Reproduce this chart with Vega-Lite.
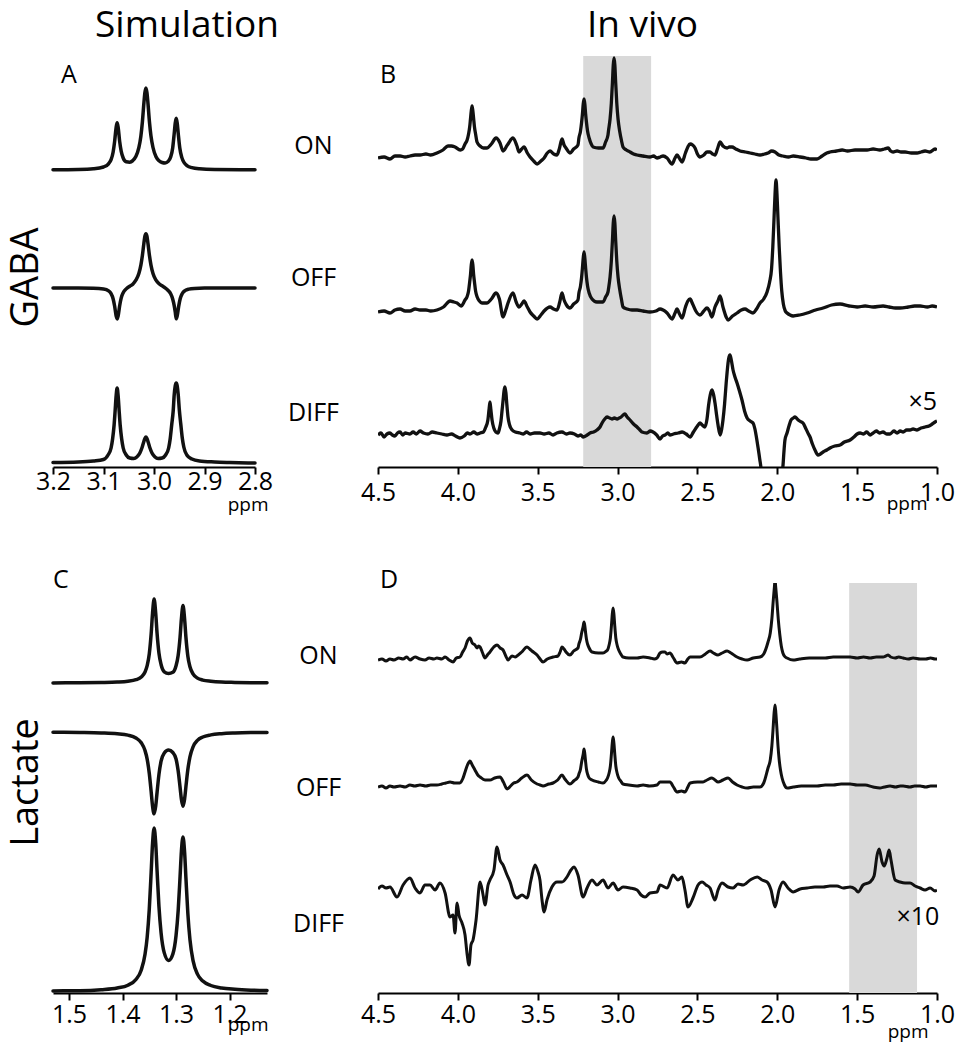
{
"$schema": "https://vega.github.io/schema/vega-lite/v6.json",
"background": "white",
"padding": {"left": 7, "top": 7, "right": 5, "bottom": 5},
"config": {
 "font": "Open Sans",
 "view": {"stroke": null},
 "axis": {"domainColor": "#000", "domainWidth": 2, "tickColor": "#000", "tickWidth": 2, "labelColor": "#000", "labelFont": "Open Sans", "labelFontSize": 25, "titleColor": "#000", "titleFont": "Open Sans", "titleFontWeight": "normal", "grid": false, "labelFlush": false, "labelOverlap": false},
 "title": {"font": "Open Sans", "fontWeight": "normal", "color": "#000", "fontSize": 37, "frame": "group"},
 "text": {"font": "Open Sans", "color": "#000"}
},
"datasets": {
 "simA": [
  {"s":"ON","ppm":3.2,"v":297.3},{"s":"ON","ppm":3.15,"v":297.6},{"s":"ON","ppm":3.12,"v":298.3},{"s":"ON","ppm":3.1,"v":300},{"s":"ON","ppm":3.09,"v":303.2},{"s":"ON","ppm":3.085,"v":307.3},{"s":"ON","ppm":3.081,"v":314.8},{"s":"ON","ppm":3.078,"v":325.4},{"s":"ON","ppm":3.075,"v":339.6},{"s":"ON","ppm":3.073,"v":344.3},{"s":"ON","ppm":3.071,"v":339.7},{"s":"ON","ppm":3.068,"v":325.6},{"s":"ON","ppm":3.065,"v":315.9},{"s":"ON","ppm":3.061,"v":309},{"s":"ON","ppm":3.055,"v":305.2},{"s":"ON","ppm":3.048,"v":304.8},{"s":"ON","ppm":3.042,"v":306.4},{"s":"ON","ppm":3.036,"v":310.4},{"s":"ON","ppm":3.03,"v":319.3},{"s":"ON","ppm":3.026,"v":330.8},{"s":"ON","ppm":3.023,"v":345},{"s":"ON","ppm":3.02,"v":364},{"s":"ON","ppm":3.018,"v":374.5},{"s":"ON","ppm":3.016,"v":379},{"s":"ON","ppm":3.014,"v":374.5},{"s":"ON","ppm":3.012,"v":364},{"s":"ON","ppm":3.009,"v":345},{"s":"ON","ppm":3.006,"v":331},{"s":"ON","ppm":3.002,"v":319.5},{"s":"ON","ppm":2.996,"v":310.3},{"s":"ON","ppm":2.99,"v":306.2},{"s":"ON","ppm":2.984,"v":304.5},{"s":"ON","ppm":2.978,"v":304},{"s":"ON","ppm":2.972,"v":305.6},{"s":"ON","ppm":2.967,"v":309.9},{"s":"ON","ppm":2.963,"v":319},{"s":"ON","ppm":2.96,"v":333.4},{"s":"ON","ppm":2.958,"v":343.8},{"s":"ON","ppm":2.956,"v":348.7},{"s":"ON","ppm":2.954,"v":343.8},{"s":"ON","ppm":2.952,"v":333.4},{"s":"ON","ppm":2.949,"v":319.3},{"s":"ON","ppm":2.945,"v":309.6},{"s":"ON","ppm":2.94,"v":304.1},{"s":"ON","ppm":2.934,"v":301.2},{"s":"ON","ppm":2.925,"v":299.4},{"s":"ON","ppm":2.91,"v":298.2},{"s":"ON","ppm":2.88,"v":297.5},{"s":"ON","ppm":2.8,"v":297.2},
  {"s":"OFF","ppm":3.2,"v":179},{"s":"OFF","ppm":3.15,"v":179},{"s":"OFF","ppm":3.12,"v":178.8},{"s":"OFF","ppm":3.1,"v":178},{"s":"OFF","ppm":3.09,"v":176.1},{"s":"OFF","ppm":3.085,"v":173.3},{"s":"OFF","ppm":3.081,"v":168.3},{"s":"OFF","ppm":3.078,"v":161},{"s":"OFF","ppm":3.075,"v":151.2},{"s":"OFF","ppm":3.073,"v":148},{"s":"OFF","ppm":3.071,"v":151.2},{"s":"OFF","ppm":3.068,"v":161.3},{"s":"OFF","ppm":3.065,"v":168.9},{"s":"OFF","ppm":3.061,"v":174.3},{"s":"OFF","ppm":3.055,"v":178.1},{"s":"OFF","ppm":3.048,"v":180.8},{"s":"OFF","ppm":3.042,"v":182.8},{"s":"OFF","ppm":3.036,"v":186.8},{"s":"OFF","ppm":3.03,"v":193.5},{"s":"OFF","ppm":3.026,"v":201.9},{"s":"OFF","ppm":3.023,"v":211.5},{"s":"OFF","ppm":3.02,"v":223.8},{"s":"OFF","ppm":3.018,"v":230.8},{"s":"OFF","ppm":3.016,"v":233.3},{"s":"OFF","ppm":3.014,"v":230.8},{"s":"OFF","ppm":3.012,"v":223.7},{"s":"OFF","ppm":3.009,"v":211.5},{"s":"OFF","ppm":3.006,"v":201.9},{"s":"OFF","ppm":3.002,"v":193.5},{"s":"OFF","ppm":2.996,"v":186.8},{"s":"OFF","ppm":2.99,"v":183.2},{"s":"OFF","ppm":2.984,"v":181.2},{"s":"OFF","ppm":2.978,"v":179.2},{"s":"OFF","ppm":2.972,"v":176.5},{"s":"OFF","ppm":2.967,"v":173.2},{"s":"OFF","ppm":2.963,"v":168},{"s":"OFF","ppm":2.96,"v":161.4},{"s":"OFF","ppm":2.958,"v":155.3},{"s":"OFF","ppm":2.956,"v":148.2},{"s":"OFF","ppm":2.954,"v":151.3},{"s":"OFF","ppm":2.951,"v":161.1},{"s":"OFF","ppm":2.948,"v":168.5},{"s":"OFF","ppm":2.944,"v":173.5},{"s":"OFF","ppm":2.938,"v":176.6},{"s":"OFF","ppm":2.931,"v":177.9},{"s":"OFF","ppm":2.92,"v":178.6},{"s":"OFF","ppm":2.9,"v":178.9},{"s":"OFF","ppm":2.8,"v":179},
  {"s":"DIFF","ppm":3.2,"v":4.5},{"s":"DIFF","ppm":3.15,"v":5},{"s":"DIFF","ppm":3.12,"v":6},{"s":"DIFF","ppm":3.1,"v":7.5},{"s":"DIFF","ppm":3.091,"v":12},{"s":"DIFF","ppm":3.085,"v":19},{"s":"DIFF","ppm":3.082,"v":28},{"s":"DIFF","ppm":3.079,"v":42},{"s":"DIFF","ppm":3.077,"v":56},{"s":"DIFF","ppm":3.075,"v":71},{"s":"DIFF","ppm":3.073,"v":79},{"s":"DIFF","ppm":3.071,"v":71},{"s":"DIFF","ppm":3.069,"v":56},{"s":"DIFF","ppm":3.067,"v":42},{"s":"DIFF","ppm":3.064,"v":28},{"s":"DIFF","ppm":3.061,"v":19},{"s":"DIFF","ppm":3.055,"v":12},{"s":"DIFF","ppm":3.048,"v":9},{"s":"DIFF","ppm":3.04,"v":8.5},{"s":"DIFF","ppm":3.034,"v":10},{"s":"DIFF","ppm":3.028,"v":14},{"s":"DIFF","ppm":3.024,"v":19},{"s":"DIFF","ppm":3.021,"v":24},{"s":"DIFF","ppm":3.018,"v":28.5},{"s":"DIFF","ppm":3.016,"v":30},{"s":"DIFF","ppm":3.014,"v":28.5},{"s":"DIFF","ppm":3.011,"v":24},{"s":"DIFF","ppm":3.008,"v":19},{"s":"DIFF","ppm":3.004,"v":14},{"s":"DIFF","ppm":2.998,"v":10},{"s":"DIFF","ppm":2.992,"v":8.5},{"s":"DIFF","ppm":2.984,"v":9},{"s":"DIFF","ppm":2.977,"v":12},{"s":"DIFF","ppm":2.971,"v":19},{"s":"DIFF","ppm":2.968,"v":28},{"s":"DIFF","ppm":2.965,"v":42},{"s":"DIFF","ppm":2.962,"v":56},{"s":"DIFF","ppm":2.96,"v":72},{"s":"DIFF","ppm":2.958,"v":81},{"s":"DIFF","ppm":2.956,"v":84},{"s":"DIFF","ppm":2.954,"v":81},{"s":"DIFF","ppm":2.952,"v":72},{"s":"DIFF","ppm":2.95,"v":58},{"s":"DIFF","ppm":2.947,"v":43},{"s":"DIFF","ppm":2.944,"v":29},{"s":"DIFF","ppm":2.941,"v":20},{"s":"DIFF","ppm":2.935,"v":12},{"s":"DIFF","ppm":2.925,"v":8},{"s":"DIFF","ppm":2.91,"v":6},{"s":"DIFF","ppm":2.88,"v":5},{"s":"DIFF","ppm":2.85,"v":4.5},{"s":"DIFF","ppm":2.8,"v":4}
 ],
 "simC": [
  {"s":"ON","ppm":1.53,"v":310.1},{"s":"ON","ppm":1.48,"v":310.3},{"s":"ON","ppm":1.44,"v":310.5},{"s":"ON","ppm":1.41,"v":310.9},{"s":"ON","ppm":1.39,"v":311.7},{"s":"ON","ppm":1.375,"v":313.3},{"s":"ON","ppm":1.365,"v":316},{"s":"ON","ppm":1.358,"v":321},{"s":"ON","ppm":1.354,"v":327.3},{"s":"ON","ppm":1.35,"v":339.3},{"s":"ON","ppm":1.3465,"v":359.3},{"s":"ON","ppm":1.344,"v":379.3},{"s":"ON","ppm":1.341,"v":394},{"s":"ON","ppm":1.338,"v":379.6},{"s":"ON","ppm":1.3355,"v":359.8},{"s":"ON","ppm":1.332,"v":340},{"s":"ON","ppm":1.328,"v":328.5},{"s":"ON","ppm":1.322,"v":321.2},{"s":"ON","ppm":1.314,"v":319.5},{"s":"ON","ppm":1.306,"v":320.7},{"s":"ON","ppm":1.3,"v":327.3},{"s":"ON","ppm":1.296,"v":337.8},{"s":"ON","ppm":1.2925,"v":355.9},{"s":"ON","ppm":1.29,"v":374.1},{"s":"ON","ppm":1.287,"v":387.4},{"s":"ON","ppm":1.284,"v":373.9},{"s":"ON","ppm":1.2815,"v":355.5},{"s":"ON","ppm":1.278,"v":337.1},{"s":"ON","ppm":1.274,"v":326.2},{"s":"ON","ppm":1.268,"v":318.9},{"s":"ON","ppm":1.26,"v":314.9},{"s":"ON","ppm":1.25,"v":312.9},{"s":"ON","ppm":1.235,"v":311.7},{"s":"ON","ppm":1.215,"v":310.9},{"s":"ON","ppm":1.19,"v":310.6},{"s":"ON","ppm":1.16,"v":310.35},{"s":"ON","ppm":1.13,"v":310.2},
  {"s":"OFF","ppm":1.53,"v":260.7},{"s":"OFF","ppm":1.48,"v":260.5},{"s":"OFF","ppm":1.44,"v":260.1},{"s":"OFF","ppm":1.41,"v":259.3},{"s":"OFF","ppm":1.39,"v":257.9},{"s":"OFF","ppm":1.375,"v":255},{"s":"OFF","ppm":1.365,"v":250.2},{"s":"OFF","ppm":1.358,"v":242.4},{"s":"OFF","ppm":1.354,"v":233.9},{"s":"OFF","ppm":1.35,"v":219.5},{"s":"OFF","ppm":1.3465,"v":201.2},{"s":"OFF","ppm":1.344,"v":187.3},{"s":"OFF","ppm":1.341,"v":179.2},{"s":"OFF","ppm":1.338,"v":187},{"s":"OFF","ppm":1.3355,"v":200.5},{"s":"OFF","ppm":1.332,"v":218.4},{"s":"OFF","ppm":1.328,"v":231.8},{"s":"OFF","ppm":1.322,"v":240},{"s":"OFF","ppm":1.314,"v":243},{"s":"OFF","ppm":1.306,"v":240.5},{"s":"OFF","ppm":1.3,"v":234},{"s":"OFF","ppm":1.296,"v":221.9},{"s":"OFF","ppm":1.2925,"v":205.8},{"s":"OFF","ppm":1.29,"v":193.7},{"s":"OFF","ppm":1.287,"v":186.7},{"s":"OFF","ppm":1.284,"v":194.1},{"s":"OFF","ppm":1.2815,"v":206.6},{"s":"OFF","ppm":1.278,"v":223.2},{"s":"OFF","ppm":1.274,"v":236.1},{"s":"OFF","ppm":1.268,"v":246.4},{"s":"OFF","ppm":1.26,"v":252.6},{"s":"OFF","ppm":1.25,"v":256},{"s":"OFF","ppm":1.235,"v":258.1},{"s":"OFF","ppm":1.215,"v":259.3},{"s":"OFF","ppm":1.19,"v":260},{"s":"OFF","ppm":1.16,"v":260.45},{"s":"OFF","ppm":1.13,"v":260.6},
  {"s":"DIFF","ppm":1.53,"v":2.1},{"s":"DIFF","ppm":1.48,"v":2.3},{"s":"DIFF","ppm":1.44,"v":3.3},{"s":"DIFF","ppm":1.41,"v":5},{"s":"DIFF","ppm":1.39,"v":7.8},{"s":"DIFF","ppm":1.375,"v":13.5},{"s":"DIFF","ppm":1.365,"v":23.1},{"s":"DIFF","ppm":1.358,"v":38.7},{"s":"DIFF","ppm":1.354,"v":55.7},{"s":"DIFF","ppm":1.35,"v":84.2},{"s":"DIFF","ppm":1.3465,"v":121},{"s":"DIFF","ppm":1.344,"v":148.8},{"s":"DIFF","ppm":1.341,"v":165.1},{"s":"DIFF","ppm":1.338,"v":149.5},{"s":"DIFF","ppm":1.3355,"v":122.5},{"s":"DIFF","ppm":1.332,"v":86.8},{"s":"DIFF","ppm":1.328,"v":60.2},{"s":"DIFF","ppm":1.322,"v":40.1},{"s":"DIFF","ppm":1.314,"v":32.5},{"s":"DIFF","ppm":1.306,"v":38.9},{"s":"DIFF","ppm":1.3,"v":57.5},{"s":"DIFF","ppm":1.296,"v":82.7},{"s":"DIFF","ppm":1.2925,"v":116.3},{"s":"DIFF","ppm":1.29,"v":141.6},{"s":"DIFF","ppm":1.287,"v":156.1},{"s":"DIFF","ppm":1.284,"v":140.7},{"s":"DIFF","ppm":1.2815,"v":114.6},{"s":"DIFF","ppm":1.278,"v":80},{"s":"DIFF","ppm":1.274,"v":53.3},{"s":"DIFF","ppm":1.268,"v":31.8},{"s":"DIFF","ppm":1.26,"v":18.9},{"s":"DIFF","ppm":1.25,"v":11.9},{"s":"DIFF","ppm":1.235,"v":7.5},{"s":"DIFF","ppm":1.215,"v":5},{"s":"DIFF","ppm":1.19,"v":3.7},{"s":"DIFF","ppm":1.16,"v":2.85},{"s":"DIFF","ppm":1.13,"v":2.45}
 ],
 "vivoB": [
  {"s":"ON","ppm":4.5,"v":309},{"s":"ON","ppm":4.462,"v":310},{"s":"ON","ppm":4.425,"v":308},{"s":"ON","ppm":4.394,"v":311},{"s":"ON","ppm":4.362,"v":311},{"s":"ON","ppm":4.33,"v":310},{"s":"ON","ppm":4.3,"v":311},{"s":"ON","ppm":4.268,"v":312},{"s":"ON","ppm":4.237,"v":312},{"s":"ON","ppm":4.2,"v":313},{"s":"ON","ppm":4.17,"v":312},{"s":"ON","ppm":4.131,"v":314},{"s":"ON","ppm":4.093,"v":317},{"s":"ON","ppm":4.062,"v":321},{"s":"ON","ppm":4.04,"v":321},{"s":"ON","ppm":4.018,"v":320},{"s":"ON","ppm":3.985,"v":317},{"s":"ON","ppm":3.97,"v":318},{"s":"ON","ppm":3.955,"v":323},{"s":"ON","ppm":3.942,"v":327},{"s":"ON","ppm":3.933,"v":333},{"s":"ON","ppm":3.926,"v":340},{"s":"ON","ppm":3.921,"v":348},{"s":"ON","ppm":3.916,"v":356},{"s":"ON","ppm":3.911,"v":361},{"s":"ON","ppm":3.906,"v":356},{"s":"ON","ppm":3.901,"v":348},{"s":"ON","ppm":3.896,"v":340},{"s":"ON","ppm":3.889,"v":333},{"s":"ON","ppm":3.88,"v":325},{"s":"ON","ppm":3.861,"v":321},{"s":"ON","ppm":3.84,"v":319},{"s":"ON","ppm":3.817,"v":319},{"s":"ON","ppm":3.79,"v":323},{"s":"ON","ppm":3.761,"v":329},{"s":"ON","ppm":3.736,"v":324},{"s":"ON","ppm":3.717,"v":316},{"s":"ON","ppm":3.69,"v":322},{"s":"ON","ppm":3.655,"v":329},{"s":"ON","ppm":3.63,"v":321},{"s":"ON","ppm":3.617,"v":315},{"s":"ON","ppm":3.6,"v":318},{"s":"ON","ppm":3.586,"v":320},{"s":"ON","ppm":3.565,"v":314},{"s":"ON","ppm":3.548,"v":310},{"s":"ON","ppm":3.525,"v":306},{"s":"ON","ppm":3.504,"v":303},{"s":"ON","ppm":3.48,"v":306},{"s":"ON","ppm":3.46,"v":309},{"s":"ON","ppm":3.44,"v":314},{"s":"ON","ppm":3.423,"v":316},{"s":"ON","ppm":3.4,"v":313},{"s":"ON","ppm":3.379,"v":312},{"s":"ON","ppm":3.365,"v":318},{"s":"ON","ppm":3.348,"v":328},{"s":"ON","ppm":3.335,"v":322},{"s":"ON","ppm":3.323,"v":319},{"s":"ON","ppm":3.298,"v":314},{"s":"ON","ppm":3.275,"v":318},{"s":"ON","ppm":3.248,"v":322},{"s":"ON","ppm":3.242,"v":329},{"s":"ON","ppm":3.232,"v":336},{"s":"ON","ppm":3.225,"v":345},{"s":"ON","ppm":3.22,"v":353},{"s":"ON","ppm":3.215,"v":363},{"s":"ON","ppm":3.21,"v":368},{"s":"ON","ppm":3.205,"v":363},{"s":"ON","ppm":3.2,"v":353},{"s":"ON","ppm":3.195,"v":345},{"s":"ON","ppm":3.188,"v":336},{"s":"ON","ppm":3.178,"v":329},{"s":"ON","ppm":3.165,"v":323},{"s":"ON","ppm":3.153,"v":320},{"s":"ON","ppm":3.12,"v":319},{"s":"ON","ppm":3.091,"v":319},{"s":"ON","ppm":3.075,"v":325},{"s":"ON","ppm":3.06,"v":332},{"s":"ON","ppm":3.057,"v":336},{"s":"ON","ppm":3.047,"v":348},{"s":"ON","ppm":3.039,"v":364},{"s":"ON","ppm":3.032,"v":385},{"s":"ON","ppm":3.027,"v":402},{"s":"ON","ppm":3.022,"v":409},{"s":"ON","ppm":3.017,"v":402},{"s":"ON","ppm":3.012,"v":385},{"s":"ON","ppm":3.005,"v":364},{"s":"ON","ppm":2.997,"v":348},{"s":"ON","ppm":2.987,"v":336},{"s":"ON","ppm":2.975,"v":326},{"s":"ON","ppm":2.966,"v":320},{"s":"ON","ppm":2.945,"v":317},{"s":"ON","ppm":2.922,"v":315},{"s":"ON","ppm":2.9,"v":313},{"s":"ON","ppm":2.878,"v":312},{"s":"ON","ppm":2.84,"v":311},{"s":"ON","ppm":2.797,"v":310},{"s":"ON","ppm":2.775,"v":311},{"s":"ON","ppm":2.753,"v":309},{"s":"ON","ppm":2.733,"v":310},{"s":"ON","ppm":2.715,"v":311},{"s":"ON","ppm":2.69,"v":309},{"s":"ON","ppm":2.659,"v":303},{"s":"ON","ppm":2.64,"v":309},{"s":"ON","ppm":2.628,"v":312},{"s":"ON","ppm":2.61,"v":308},{"s":"ON","ppm":2.596,"v":305},{"s":"ON","ppm":2.575,"v":314},{"s":"ON","ppm":2.56,"v":320},{"s":"ON","ppm":2.546,"v":323},{"s":"ON","ppm":2.53,"v":322},{"s":"ON","ppm":2.515,"v":319},{"s":"ON","ppm":2.5,"v":313},{"s":"ON","ppm":2.484,"v":310},{"s":"ON","ppm":2.46,"v":312},{"s":"ON","ppm":2.44,"v":315},{"s":"ON","ppm":2.421,"v":315},{"s":"ON","ppm":2.405,"v":313},{"s":"ON","ppm":2.39,"v":312},{"s":"ON","ppm":2.375,"v":318},{"s":"ON","ppm":2.358,"v":325},{"s":"ON","ppm":2.34,"v":321},{"s":"ON","ppm":2.314,"v":319},{"s":"ON","ppm":2.3,"v":320},{"s":"ON","ppm":2.283,"v":320},{"s":"ON","ppm":2.26,"v":318},{"s":"ON","ppm":2.233,"v":316},{"s":"ON","ppm":2.2,"v":315},{"s":"ON","ppm":2.17,"v":314},{"s":"ON","ppm":2.14,"v":313},{"s":"ON","ppm":2.108,"v":312},{"s":"ON","ppm":2.08,"v":313},{"s":"ON","ppm":2.058,"v":314},{"s":"ON","ppm":2.035,"v":316},{"s":"ON","ppm":2.014,"v":315},{"s":"ON","ppm":1.99,"v":312},{"s":"ON","ppm":1.964,"v":311},{"s":"ON","ppm":1.93,"v":310},{"s":"ON","ppm":1.9,"v":311},{"s":"ON","ppm":1.857,"v":310},{"s":"ON","ppm":1.82,"v":309},{"s":"ON","ppm":1.79,"v":308},{"s":"ON","ppm":1.751,"v":308},{"s":"ON","ppm":1.72,"v":311},{"s":"ON","ppm":1.69,"v":314},{"s":"ON","ppm":1.67,"v":315},{"s":"ON","ppm":1.63,"v":316},{"s":"ON","ppm":1.594,"v":317},{"s":"ON","ppm":1.56,"v":316},{"s":"ON","ppm":1.513,"v":317},{"s":"ON","ppm":1.47,"v":317},{"s":"ON","ppm":1.438,"v":317},{"s":"ON","ppm":1.4,"v":318},{"s":"ON","ppm":1.357,"v":317},{"s":"ON","ppm":1.33,"v":318},{"s":"ON","ppm":1.306,"v":319},{"s":"ON","ppm":1.29,"v":316},{"s":"ON","ppm":1.275,"v":315},{"s":"ON","ppm":1.25,"v":316},{"s":"ON","ppm":1.225,"v":315},{"s":"ON","ppm":1.2,"v":315},{"s":"ON","ppm":1.16,"v":314},{"s":"ON","ppm":1.125,"v":314},{"s":"ON","ppm":1.1,"v":315},{"s":"ON","ppm":1.075,"v":316},{"s":"ON","ppm":1.045,"v":315},{"s":"ON","ppm":1.012,"v":318},{"s":"ON","ppm":1.0,"v":317},
  {"s":"OFF","ppm":4.5,"v":155},{"s":"OFF","ppm":4.462,"v":156},{"s":"OFF","ppm":4.425,"v":154},{"s":"OFF","ppm":4.394,"v":157},{"s":"OFF","ppm":4.362,"v":158},{"s":"OFF","ppm":4.33,"v":156},{"s":"OFF","ppm":4.3,"v":156},{"s":"OFF","ppm":4.268,"v":158},{"s":"OFF","ppm":4.237,"v":157},{"s":"OFF","ppm":4.2,"v":157},{"s":"OFF","ppm":4.17,"v":156},{"s":"OFF","ppm":4.131,"v":157},{"s":"OFF","ppm":4.09,"v":160},{"s":"OFF","ppm":4.049,"v":166},{"s":"OFF","ppm":4.025,"v":165},{"s":"OFF","ppm":4.005,"v":164},{"s":"OFF","ppm":3.98,"v":161},{"s":"OFF","ppm":3.955,"v":167},{"s":"OFF","ppm":3.943,"v":170},{"s":"OFF","ppm":3.933,"v":176},{"s":"OFF","ppm":3.926,"v":185},{"s":"OFF","ppm":3.921,"v":192},{"s":"OFF","ppm":3.916,"v":202},{"s":"OFF","ppm":3.911,"v":207},{"s":"OFF","ppm":3.906,"v":202},{"s":"OFF","ppm":3.901,"v":192},{"s":"OFF","ppm":3.896,"v":185},{"s":"OFF","ppm":3.889,"v":176},{"s":"OFF","ppm":3.879,"v":170},{"s":"OFF","ppm":3.865,"v":166},{"s":"OFF","ppm":3.849,"v":164},{"s":"OFF","ppm":3.817,"v":164},{"s":"OFF","ppm":3.79,"v":168},{"s":"OFF","ppm":3.761,"v":174},{"s":"OFF","ppm":3.74,"v":168},{"s":"OFF","ppm":3.717,"v":150},{"s":"OFF","ppm":3.7,"v":157},{"s":"OFF","ppm":3.686,"v":164},{"s":"OFF","ppm":3.655,"v":174},{"s":"OFF","ppm":3.635,"v":165},{"s":"OFF","ppm":3.617,"v":160},{"s":"OFF","ppm":3.6,"v":163},{"s":"OFF","ppm":3.586,"v":166},{"s":"OFF","ppm":3.565,"v":160},{"s":"OFF","ppm":3.548,"v":155},{"s":"OFF","ppm":3.525,"v":151},{"s":"OFF","ppm":3.504,"v":148},{"s":"OFF","ppm":3.48,"v":152},{"s":"OFF","ppm":3.46,"v":156},{"s":"OFF","ppm":3.423,"v":160},{"s":"OFF","ppm":3.4,"v":158},{"s":"OFF","ppm":3.379,"v":157},{"s":"OFF","ppm":3.362,"v":165},{"s":"OFF","ppm":3.348,"v":174},{"s":"OFF","ppm":3.335,"v":167},{"s":"OFF","ppm":3.32,"v":162},{"s":"OFF","ppm":3.298,"v":159},{"s":"OFF","ppm":3.275,"v":163},{"s":"OFF","ppm":3.248,"v":167},{"s":"OFF","ppm":3.242,"v":174},{"s":"OFF","ppm":3.232,"v":181},{"s":"OFF","ppm":3.225,"v":190},{"s":"OFF","ppm":3.22,"v":199},{"s":"OFF","ppm":3.215,"v":209},{"s":"OFF","ppm":3.21,"v":215},{"s":"OFF","ppm":3.205,"v":209},{"s":"OFF","ppm":3.2,"v":199},{"s":"OFF","ppm":3.195,"v":190},{"s":"OFF","ppm":3.188,"v":181},{"s":"OFF","ppm":3.178,"v":174},{"s":"OFF","ppm":3.16,"v":168},{"s":"OFF","ppm":3.13,"v":165},{"s":"OFF","ppm":3.091,"v":165},{"s":"OFF","ppm":3.075,"v":170},{"s":"OFF","ppm":3.06,"v":175},{"s":"OFF","ppm":3.057,"v":178},{"s":"OFF","ppm":3.047,"v":190},{"s":"OFF","ppm":3.039,"v":206},{"s":"OFF","ppm":3.032,"v":227},{"s":"OFF","ppm":3.027,"v":244},{"s":"OFF","ppm":3.022,"v":251},{"s":"OFF","ppm":3.017,"v":244},{"s":"OFF","ppm":3.012,"v":227},{"s":"OFF","ppm":3.005,"v":206},{"s":"OFF","ppm":2.997,"v":190},{"s":"OFF","ppm":2.987,"v":178},{"s":"OFF","ppm":2.975,"v":167},{"s":"OFF","ppm":2.966,"v":160},{"s":"OFF","ppm":2.94,"v":158},{"s":"OFF","ppm":2.91,"v":157},{"s":"OFF","ppm":2.878,"v":157},{"s":"OFF","ppm":2.84,"v":156},{"s":"OFF","ppm":2.797,"v":155},{"s":"OFF","ppm":2.76,"v":156},{"s":"OFF","ppm":2.734,"v":158},{"s":"OFF","ppm":2.715,"v":157},{"s":"OFF","ppm":2.69,"v":154},{"s":"OFF","ppm":2.659,"v":148},{"s":"OFF","ppm":2.64,"v":154},{"s":"OFF","ppm":2.628,"v":158},{"s":"OFF","ppm":2.612,"v":153},{"s":"OFF","ppm":2.596,"v":149},{"s":"OFF","ppm":2.575,"v":160},{"s":"OFF","ppm":2.56,"v":166},{"s":"OFF","ppm":2.546,"v":168},{"s":"OFF","ppm":2.53,"v":163},{"s":"OFF","ppm":2.51,"v":156},{"s":"OFF","ppm":2.484,"v":152},{"s":"OFF","ppm":2.46,"v":156},{"s":"OFF","ppm":2.44,"v":159},{"s":"OFF","ppm":2.425,"v":156},{"s":"OFF","ppm":2.409,"v":150},{"s":"OFF","ppm":2.39,"v":160},{"s":"OFF","ppm":2.372,"v":166},{"s":"OFF","ppm":2.358,"v":171},{"s":"OFF","ppm":2.34,"v":160},{"s":"OFF","ppm":2.32,"v":150},{"s":"OFF","ppm":2.308,"v":147},{"s":"OFF","ppm":2.28,"v":151},{"s":"OFF","ppm":2.252,"v":154},{"s":"OFF","ppm":2.225,"v":157},{"s":"OFF","ppm":2.202,"v":158},{"s":"OFF","ppm":2.18,"v":156},{"s":"OFF","ppm":2.152,"v":154},{"s":"OFF","ppm":2.13,"v":158},{"s":"OFF","ppm":2.108,"v":164},{"s":"OFF","ppm":2.085,"v":168},{"s":"OFF","ppm":2.064,"v":175},{"s":"OFF","ppm":2.048,"v":185},{"s":"OFF","ppm":2.036,"v":198},{"s":"OFF","ppm":2.028,"v":220},{"s":"OFF","ppm":2.02,"v":250},{"s":"OFF","ppm":2.014,"v":273},{"s":"OFF","ppm":2.008,"v":287},{"s":"OFF","ppm":2.002,"v":273},{"s":"OFF","ppm":1.996,"v":250},{"s":"OFF","ppm":1.988,"v":220},{"s":"OFF","ppm":1.98,"v":195},{"s":"OFF","ppm":1.972,"v":176},{"s":"OFF","ppm":1.962,"v":163},{"s":"OFF","ppm":1.95,"v":156},{"s":"OFF","ppm":1.939,"v":154},{"s":"OFF","ppm":1.92,"v":152},{"s":"OFF","ppm":1.901,"v":151},{"s":"OFF","ppm":1.86,"v":152},{"s":"OFF","ppm":1.813,"v":154},{"s":"OFF","ppm":1.76,"v":157},{"s":"OFF","ppm":1.713,"v":159},{"s":"OFF","ppm":1.66,"v":162},{"s":"OFF","ppm":1.607,"v":163},{"s":"OFF","ppm":1.55,"v":161},{"s":"OFF","ppm":1.5,"v":160},{"s":"OFF","ppm":1.45,"v":161},{"s":"OFF","ppm":1.4,"v":160},{"s":"OFF","ppm":1.338,"v":161},{"s":"OFF","ppm":1.3,"v":160},{"s":"OFF","ppm":1.26,"v":159},{"s":"OFF","ppm":1.231,"v":159},{"s":"OFF","ppm":1.18,"v":160},{"s":"OFF","ppm":1.14,"v":161},{"s":"OFF","ppm":1.106,"v":161},{"s":"OFF","ppm":1.06,"v":160},{"s":"OFF","ppm":1.03,"v":161},{"s":"OFF","ppm":1.0,"v":160},
  {"s":"DIFF","ppm":4.5,"v":32},{"s":"DIFF","ppm":4.481,"v":34},{"s":"DIFF","ppm":4.462,"v":30},{"s":"DIFF","ppm":4.444,"v":33},{"s":"DIFF","ppm":4.425,"v":34},{"s":"DIFF","ppm":4.41,"v":32},{"s":"DIFF","ppm":4.394,"v":31},{"s":"DIFF","ppm":4.378,"v":34},{"s":"DIFF","ppm":4.362,"v":35},{"s":"DIFF","ppm":4.345,"v":32},{"s":"DIFF","ppm":4.33,"v":34},{"s":"DIFF","ppm":4.3,"v":33},{"s":"DIFF","ppm":4.28,"v":35},{"s":"DIFF","ppm":4.26,"v":33},{"s":"DIFF","ppm":4.237,"v":36},{"s":"DIFF","ppm":4.215,"v":34},{"s":"DIFF","ppm":4.187,"v":33},{"s":"DIFF","ppm":4.16,"v":35},{"s":"DIFF","ppm":4.131,"v":34},{"s":"DIFF","ppm":4.1,"v":33},{"s":"DIFF","ppm":4.068,"v":32},{"s":"DIFF","ppm":4.04,"v":33},{"s":"DIFF","ppm":4.015,"v":31},{"s":"DIFF","ppm":3.987,"v":29},{"s":"DIFF","ppm":3.96,"v":31},{"s":"DIFF","ppm":3.94,"v":34},{"s":"DIFF","ppm":3.924,"v":33},{"s":"DIFF","ppm":3.9,"v":35},{"s":"DIFF","ppm":3.88,"v":33},{"s":"DIFF","ppm":3.861,"v":34},{"s":"DIFF","ppm":3.84,"v":35},{"s":"DIFF","ppm":3.825,"v":40},{"s":"DIFF","ppm":3.812,"v":47},{"s":"DIFF","ppm":3.805,"v":57},{"s":"DIFF","ppm":3.799,"v":65},{"s":"DIFF","ppm":3.793,"v":57},{"s":"DIFF","ppm":3.786,"v":47},{"s":"DIFF","ppm":3.775,"v":39},{"s":"DIFF","ppm":3.762,"v":35},{"s":"DIFF","ppm":3.749,"v":34},{"s":"DIFF","ppm":3.74,"v":38},{"s":"DIFF","ppm":3.73,"v":46},{"s":"DIFF","ppm":3.723,"v":57},{"s":"DIFF","ppm":3.716,"v":68},{"s":"DIFF","ppm":3.711,"v":76},{"s":"DIFF","ppm":3.705,"v":80},{"s":"DIFF","ppm":3.699,"v":74},{"s":"DIFF","ppm":3.693,"v":62},{"s":"DIFF","ppm":3.686,"v":50},{"s":"DIFF","ppm":3.676,"v":42},{"s":"DIFF","ppm":3.66,"v":37},{"s":"DIFF","ppm":3.64,"v":35},{"s":"DIFF","ppm":3.611,"v":34},{"s":"DIFF","ppm":3.59,"v":33},{"s":"DIFF","ppm":3.57,"v":35},{"s":"DIFF","ppm":3.548,"v":33},{"s":"DIFF","ppm":3.52,"v":34},{"s":"DIFF","ppm":3.486,"v":34},{"s":"DIFF","ppm":3.46,"v":33},{"s":"DIFF","ppm":3.43,"v":34},{"s":"DIFF","ppm":3.404,"v":32},{"s":"DIFF","ppm":3.38,"v":34},{"s":"DIFF","ppm":3.348,"v":35},{"s":"DIFF","ppm":3.32,"v":33},{"s":"DIFF","ppm":3.298,"v":34},{"s":"DIFF","ppm":3.27,"v":33},{"s":"DIFF","ppm":3.248,"v":31},{"s":"DIFF","ppm":3.23,"v":32},{"s":"DIFF","ppm":3.216,"v":30},{"s":"DIFF","ppm":3.19,"v":32},{"s":"DIFF","ppm":3.172,"v":34},{"s":"DIFF","ppm":3.15,"v":35},{"s":"DIFF","ppm":3.129,"v":37},{"s":"DIFF","ppm":3.11,"v":40},{"s":"DIFF","ppm":3.097,"v":44},{"s":"DIFF","ppm":3.08,"v":48},{"s":"DIFF","ppm":3.066,"v":50},{"s":"DIFF","ppm":3.05,"v":49},{"s":"DIFF","ppm":3.035,"v":48},{"s":"DIFF","ppm":3.02,"v":49},{"s":"DIFF","ppm":3.003,"v":48},{"s":"DIFF","ppm":2.99,"v":49},{"s":"DIFF","ppm":2.978,"v":50},{"s":"DIFF","ppm":2.965,"v":52},{"s":"DIFF","ppm":2.953,"v":53},{"s":"DIFF","ppm":2.94,"v":50},{"s":"DIFF","ppm":2.922,"v":47},{"s":"DIFF","ppm":2.9,"v":43},{"s":"DIFF","ppm":2.878,"v":40},{"s":"DIFF","ppm":2.86,"v":37},{"s":"DIFF","ppm":2.847,"v":35},{"s":"DIFF","ppm":2.816,"v":34},{"s":"DIFF","ppm":2.795,"v":36},{"s":"DIFF","ppm":2.778,"v":35},{"s":"DIFF","ppm":2.755,"v":32},{"s":"DIFF","ppm":2.734,"v":28},{"s":"DIFF","ppm":2.718,"v":31},{"s":"DIFF","ppm":2.703,"v":32},{"s":"DIFF","ppm":2.685,"v":34},{"s":"DIFF","ppm":2.672,"v":32},{"s":"DIFF","ppm":2.65,"v":33},{"s":"DIFF","ppm":2.62,"v":34},{"s":"DIFF","ppm":2.596,"v":35},{"s":"DIFF","ppm":2.57,"v":33},{"s":"DIFF","ppm":2.546,"v":30},{"s":"DIFF","ppm":2.525,"v":35},{"s":"DIFF","ppm":2.5,"v":41},{"s":"DIFF","ppm":2.484,"v":44},{"s":"DIFF","ppm":2.47,"v":42},{"s":"DIFF","ppm":2.453,"v":40},{"s":"DIFF","ppm":2.44,"v":48},{"s":"DIFF","ppm":2.43,"v":62},{"s":"DIFF","ppm":2.42,"v":72},{"s":"DIFF","ppm":2.409,"v":77},{"s":"DIFF","ppm":2.4,"v":73},{"s":"DIFF","ppm":2.39,"v":64},{"s":"DIFF","ppm":2.38,"v":52},{"s":"DIFF","ppm":2.371,"v":42},{"s":"DIFF","ppm":2.358,"v":32},{"s":"DIFF","ppm":2.348,"v":38},{"s":"DIFF","ppm":2.34,"v":47},{"s":"DIFF","ppm":2.33,"v":63},{"s":"DIFF","ppm":2.32,"v":84},{"s":"DIFF","ppm":2.314,"v":95},{"s":"DIFF","ppm":2.305,"v":108},{"s":"DIFF","ppm":2.296,"v":112},{"s":"DIFF","ppm":2.288,"v":107},{"s":"DIFF","ppm":2.277,"v":97},{"s":"DIFF","ppm":2.265,"v":90},{"s":"DIFF","ppm":2.252,"v":84},{"s":"DIFF","ppm":2.235,"v":75},{"s":"DIFF","ppm":2.221,"v":67},{"s":"DIFF","ppm":2.205,"v":56},{"s":"DIFF","ppm":2.189,"v":49},{"s":"DIFF","ppm":2.17,"v":46},{"s":"DIFF","ppm":2.152,"v":44},{"s":"DIFF","ppm":2.14,"v":38},{"s":"DIFF","ppm":2.133,"v":32},{"s":"DIFF","ppm":2.121,"v":20},{"s":"DIFF","ppm":2.11,"v":8},{"s":"DIFF","ppm":2.1,"v":-5},{"s":"DIFF","ppm":2.085,"v":-60},{"s":"DIFF","ppm":2.0,"v":-300},{"s":"DIFF","ppm":1.98,"v":-60},{"s":"DIFF","ppm":1.97,"v":-8},{"s":"DIFF","ppm":1.964,"v":2},{"s":"DIFF","ppm":1.958,"v":16},{"s":"DIFF","ppm":1.952,"v":27},{"s":"DIFF","ppm":1.939,"v":34},{"s":"DIFF","ppm":1.925,"v":42},{"s":"DIFF","ppm":1.914,"v":47},{"s":"DIFF","ppm":1.9,"v":49},{"s":"DIFF","ppm":1.889,"v":50},{"s":"DIFF","ppm":1.875,"v":48},{"s":"DIFF","ppm":1.86,"v":46},{"s":"DIFF","ppm":1.839,"v":44},{"s":"DIFF","ppm":1.82,"v":38},{"s":"DIFF","ppm":1.805,"v":33},{"s":"DIFF","ppm":1.795,"v":30},{"s":"DIFF","ppm":1.78,"v":23},{"s":"DIFF","ppm":1.764,"v":17},{"s":"DIFF","ppm":1.745,"v":12},{"s":"DIFF","ppm":1.73,"v":13},{"s":"DIFF","ppm":1.713,"v":15},{"s":"DIFF","ppm":1.69,"v":17},{"s":"DIFF","ppm":1.67,"v":19},{"s":"DIFF","ppm":1.64,"v":21},{"s":"DIFF","ppm":1.607,"v":22},{"s":"DIFF","ppm":1.58,"v":25},{"s":"DIFF","ppm":1.544,"v":27},{"s":"DIFF","ppm":1.52,"v":30},{"s":"DIFF","ppm":1.5,"v":33},{"s":"DIFF","ppm":1.482,"v":34},{"s":"DIFF","ppm":1.46,"v":33},{"s":"DIFF","ppm":1.44,"v":35},{"s":"DIFF","ppm":1.419,"v":32},{"s":"DIFF","ppm":1.4,"v":34},{"s":"DIFF","ppm":1.38,"v":36},{"s":"DIFF","ppm":1.36,"v":34},{"s":"DIFF","ppm":1.338,"v":35},{"s":"DIFF","ppm":1.315,"v":33},{"s":"DIFF","ppm":1.294,"v":33},{"s":"DIFF","ppm":1.27,"v":36},{"s":"DIFF","ppm":1.25,"v":34},{"s":"DIFF","ppm":1.23,"v":36},{"s":"DIFF","ppm":1.212,"v":35},{"s":"DIFF","ppm":1.19,"v":37},{"s":"DIFF","ppm":1.169,"v":37},{"s":"DIFF","ppm":1.15,"v":38},{"s":"DIFF","ppm":1.125,"v":37},{"s":"DIFF","ppm":1.1,"v":39},{"s":"DIFF","ppm":1.075,"v":40},{"s":"DIFF","ppm":1.05,"v":41},{"s":"DIFF","ppm":1.03,"v":43},{"s":"DIFF","ppm":1.012,"v":45},{"s":"DIFF","ppm":1.0,"v":46}
 ],
 "vivoD": [
  {"s":"ON","ppm":4.5,"v":333},{"s":"ON","ppm":4.475,"v":334},{"s":"ON","ppm":4.45,"v":332},{"s":"ON","ppm":4.425,"v":334},{"s":"ON","ppm":4.4,"v":333},{"s":"ON","ppm":4.37,"v":335},{"s":"ON","ppm":4.343,"v":334},{"s":"ON","ppm":4.32,"v":336},{"s":"ON","ppm":4.3,"v":333},{"s":"ON","ppm":4.268,"v":336},{"s":"ON","ppm":4.237,"v":334},{"s":"ON","ppm":4.206,"v":333},{"s":"ON","ppm":4.18,"v":335},{"s":"ON","ppm":4.15,"v":334},{"s":"ON","ppm":4.131,"v":335},{"s":"ON","ppm":4.1,"v":334},{"s":"ON","ppm":4.08,"v":336},{"s":"ON","ppm":4.055,"v":333},{"s":"ON","ppm":4.03,"v":331},{"s":"ON","ppm":4.01,"v":335},{"s":"ON","ppm":3.987,"v":336},{"s":"ON","ppm":3.97,"v":341},{"s":"ON","ppm":3.955,"v":345},{"s":"ON","ppm":3.94,"v":352},{"s":"ON","ppm":3.924,"v":355},{"s":"ON","ppm":3.91,"v":350},{"s":"ON","ppm":3.893,"v":348},{"s":"ON","ppm":3.88,"v":345},{"s":"ON","ppm":3.87,"v":347},{"s":"ON","ppm":3.861,"v":346},{"s":"ON","ppm":3.845,"v":340},{"s":"ON","ppm":3.83,"v":335},{"s":"ON","ppm":3.815,"v":338},{"s":"ON","ppm":3.799,"v":341},{"s":"ON","ppm":3.775,"v":346},{"s":"ON","ppm":3.755,"v":348},{"s":"ON","ppm":3.735,"v":345},{"s":"ON","ppm":3.717,"v":343},{"s":"ON","ppm":3.7,"v":337},{"s":"ON","ppm":3.686,"v":333},{"s":"ON","ppm":3.661,"v":337},{"s":"ON","ppm":3.64,"v":336},{"s":"ON","ppm":3.63,"v":337},{"s":"ON","ppm":3.6,"v":341},{"s":"ON","ppm":3.567,"v":346},{"s":"ON","ppm":3.55,"v":344},{"s":"ON","ppm":3.536,"v":342},{"s":"ON","ppm":3.504,"v":338},{"s":"ON","ppm":3.485,"v":334},{"s":"ON","ppm":3.467,"v":331},{"s":"ON","ppm":3.44,"v":334},{"s":"ON","ppm":3.404,"v":336},{"s":"ON","ppm":3.373,"v":337},{"s":"ON","ppm":3.36,"v":341},{"s":"ON","ppm":3.348,"v":346},{"s":"ON","ppm":3.335,"v":344},{"s":"ON","ppm":3.323,"v":341},{"s":"ON","ppm":3.298,"v":338},{"s":"ON","ppm":3.275,"v":342},{"s":"ON","ppm":3.248,"v":345},{"s":"ON","ppm":3.242,"v":349},{"s":"ON","ppm":3.232,"v":354},{"s":"ON","ppm":3.225,"v":360},{"s":"ON","ppm":3.215,"v":367},{"s":"ON","ppm":3.21,"v":371},{"s":"ON","ppm":3.205,"v":367},{"s":"ON","ppm":3.2,"v":360},{"s":"ON","ppm":3.195,"v":354},{"s":"ON","ppm":3.188,"v":349},{"s":"ON","ppm":3.178,"v":345},{"s":"ON","ppm":3.16,"v":341},{"s":"ON","ppm":3.12,"v":340},{"s":"ON","ppm":3.091,"v":340},{"s":"ON","ppm":3.07,"v":342},{"s":"ON","ppm":3.063,"v":343},{"s":"ON","ppm":3.053,"v":348},{"s":"ON","ppm":3.045,"v":355},{"s":"ON","ppm":3.038,"v":368},{"s":"ON","ppm":3.033,"v":379},{"s":"ON","ppm":3.028,"v":385},{"s":"ON","ppm":3.023,"v":379},{"s":"ON","ppm":3.018,"v":368},{"s":"ON","ppm":3.011,"v":355},{"s":"ON","ppm":3.003,"v":348},{"s":"ON","ppm":2.993,"v":343},{"s":"ON","ppm":2.98,"v":339},{"s":"ON","ppm":2.966,"v":336},{"s":"ON","ppm":2.93,"v":335},{"s":"ON","ppm":2.878,"v":335},{"s":"ON","ppm":2.84,"v":336},{"s":"ON","ppm":2.797,"v":335},{"s":"ON","ppm":2.77,"v":334},{"s":"ON","ppm":2.753,"v":335},{"s":"ON","ppm":2.734,"v":340},{"s":"ON","ppm":2.718,"v":341},{"s":"ON","ppm":2.703,"v":341},{"s":"ON","ppm":2.69,"v":339},{"s":"ON","ppm":2.672,"v":340},{"s":"ON","ppm":2.65,"v":335},{"s":"ON","ppm":2.628,"v":330},{"s":"ON","ppm":2.6,"v":331},{"s":"ON","ppm":2.578,"v":330},{"s":"ON","ppm":2.56,"v":334},{"s":"ON","ppm":2.546,"v":336},{"s":"ON","ppm":2.52,"v":336},{"s":"ON","ppm":2.484,"v":336},{"s":"ON","ppm":2.45,"v":339},{"s":"ON","ppm":2.421,"v":342},{"s":"ON","ppm":2.4,"v":340},{"s":"ON","ppm":2.371,"v":338},{"s":"ON","ppm":2.345,"v":340},{"s":"ON","ppm":2.314,"v":342},{"s":"ON","ppm":2.29,"v":340},{"s":"ON","ppm":2.252,"v":336},{"s":"ON","ppm":2.22,"v":334},{"s":"ON","ppm":2.189,"v":333},{"s":"ON","ppm":2.15,"v":335},{"s":"ON","ppm":2.108,"v":336},{"s":"ON","ppm":2.085,"v":339},{"s":"ON","ppm":2.058,"v":351},{"s":"ON","ppm":2.044,"v":360},{"s":"ON","ppm":2.034,"v":374},{"s":"ON","ppm":2.025,"v":393},{"s":"ON","ppm":2.018,"v":406},{"s":"ON","ppm":2.014,"v":413},{"s":"ON","ppm":2.01,"v":406},{"s":"ON","ppm":2.003,"v":393},{"s":"ON","ppm":1.994,"v":374},{"s":"ON","ppm":1.984,"v":358},{"s":"ON","ppm":1.975,"v":347},{"s":"ON","ppm":1.965,"v":340},{"s":"ON","ppm":1.95,"v":336},{"s":"ON","ppm":1.939,"v":335},{"s":"ON","ppm":1.901,"v":333},{"s":"ON","ppm":1.86,"v":334},{"s":"ON","ppm":1.8,"v":335},{"s":"ON","ppm":1.751,"v":335},{"s":"ON","ppm":1.7,"v":335},{"s":"ON","ppm":1.65,"v":336},{"s":"ON","ppm":1.6,"v":336},{"s":"ON","ppm":1.544,"v":336},{"s":"ON","ppm":1.5,"v":335},{"s":"ON","ppm":1.46,"v":336},{"s":"ON","ppm":1.419,"v":335},{"s":"ON","ppm":1.38,"v":336},{"s":"ON","ppm":1.338,"v":336},{"s":"ON","ppm":1.32,"v":337},{"s":"ON","ppm":1.306,"v":338},{"s":"ON","ppm":1.29,"v":336},{"s":"ON","ppm":1.262,"v":335},{"s":"ON","ppm":1.24,"v":336},{"s":"ON","ppm":1.212,"v":335},{"s":"ON","ppm":1.18,"v":334},{"s":"ON","ppm":1.15,"v":335},{"s":"ON","ppm":1.106,"v":334},{"s":"ON","ppm":1.07,"v":334},{"s":"ON","ppm":1.04,"v":335},{"s":"ON","ppm":1.012,"v":334},{"s":"ON","ppm":1.0,"v":334},
  {"s":"OFF","ppm":4.5,"v":206},{"s":"OFF","ppm":4.475,"v":207},{"s":"OFF","ppm":4.45,"v":205},{"s":"OFF","ppm":4.425,"v":207},{"s":"OFF","ppm":4.4,"v":206},{"s":"OFF","ppm":4.362,"v":207},{"s":"OFF","ppm":4.33,"v":206},{"s":"OFF","ppm":4.3,"v":208},{"s":"OFF","ppm":4.27,"v":207},{"s":"OFF","ppm":4.237,"v":208},{"s":"OFF","ppm":4.2,"v":207},{"s":"OFF","ppm":4.17,"v":208},{"s":"OFF","ppm":4.131,"v":208},{"s":"OFF","ppm":4.1,"v":209},{"s":"OFF","ppm":4.075,"v":210},{"s":"OFF","ppm":4.049,"v":211},{"s":"OFF","ppm":4.02,"v":210},{"s":"OFF","ppm":3.987,"v":210},{"s":"OFF","ppm":3.97,"v":214},{"s":"OFF","ppm":3.955,"v":221},{"s":"OFF","ppm":3.94,"v":228},{"s":"OFF","ppm":3.924,"v":232},{"s":"OFF","ppm":3.91,"v":228},{"s":"OFF","ppm":3.893,"v":223},{"s":"OFF","ppm":3.875,"v":218},{"s":"OFF","ppm":3.861,"v":216},{"s":"OFF","ppm":3.83,"v":213},{"s":"OFF","ppm":3.799,"v":213},{"s":"OFF","ppm":3.77,"v":215},{"s":"OFF","ppm":3.736,"v":216},{"s":"OFF","ppm":3.715,"v":211},{"s":"OFF","ppm":3.692,"v":204},{"s":"OFF","ppm":3.67,"v":207},{"s":"OFF","ppm":3.65,"v":210},{"s":"OFF","ppm":3.63,"v":211},{"s":"OFF","ppm":3.6,"v":215},{"s":"OFF","ppm":3.567,"v":218},{"s":"OFF","ppm":3.54,"v":213},{"s":"OFF","ppm":3.504,"v":209},{"s":"OFF","ppm":3.485,"v":208},{"s":"OFF","ppm":3.467,"v":207},{"s":"OFF","ppm":3.43,"v":209},{"s":"OFF","ppm":3.404,"v":210},{"s":"OFF","ppm":3.375,"v":213},{"s":"OFF","ppm":3.348,"v":218},{"s":"OFF","ppm":3.33,"v":214},{"s":"OFF","ppm":3.298,"v":209},{"s":"OFF","ppm":3.275,"v":212},{"s":"OFF","ppm":3.248,"v":216},{"s":"OFF","ppm":3.242,"v":219},{"s":"OFF","ppm":3.232,"v":224},{"s":"OFF","ppm":3.225,"v":231},{"s":"OFF","ppm":3.215,"v":239},{"s":"OFF","ppm":3.21,"v":244},{"s":"OFF","ppm":3.205,"v":239},{"s":"OFF","ppm":3.2,"v":231},{"s":"OFF","ppm":3.195,"v":224},{"s":"OFF","ppm":3.188,"v":219},{"s":"OFF","ppm":3.178,"v":215},{"s":"OFF","ppm":3.16,"v":213},{"s":"OFF","ppm":3.12,"v":211},{"s":"OFF","ppm":3.091,"v":210},{"s":"OFF","ppm":3.07,"v":213},{"s":"OFF","ppm":3.063,"v":215},{"s":"OFF","ppm":3.053,"v":220},{"s":"OFF","ppm":3.045,"v":227},{"s":"OFF","ppm":3.038,"v":240},{"s":"OFF","ppm":3.033,"v":250},{"s":"OFF","ppm":3.028,"v":256},{"s":"OFF","ppm":3.023,"v":250},{"s":"OFF","ppm":3.018,"v":240},{"s":"OFF","ppm":3.011,"v":227},{"s":"OFF","ppm":3.003,"v":220},{"s":"OFF","ppm":2.993,"v":215},{"s":"OFF","ppm":2.98,"v":212},{"s":"OFF","ppm":2.966,"v":209},{"s":"OFF","ppm":2.93,"v":208},{"s":"OFF","ppm":2.878,"v":207},{"s":"OFF","ppm":2.84,"v":208},{"s":"OFF","ppm":2.8,"v":207},{"s":"OFF","ppm":2.753,"v":208},{"s":"OFF","ppm":2.734,"v":211},{"s":"OFF","ppm":2.7,"v":211},{"s":"OFF","ppm":2.672,"v":211},{"s":"OFF","ppm":2.65,"v":206},{"s":"OFF","ppm":2.628,"v":201},{"s":"OFF","ppm":2.6,"v":202},{"s":"OFF","ppm":2.578,"v":201},{"s":"OFF","ppm":2.56,"v":206},{"s":"OFF","ppm":2.546,"v":210},{"s":"OFF","ppm":2.5,"v":211},{"s":"OFF","ppm":2.465,"v":211},{"s":"OFF","ppm":2.44,"v":213},{"s":"OFF","ppm":2.409,"v":215},{"s":"OFF","ppm":2.39,"v":213},{"s":"OFF","ppm":2.371,"v":211},{"s":"OFF","ppm":2.34,"v":213},{"s":"OFF","ppm":2.308,"v":215},{"s":"OFF","ppm":2.28,"v":211},{"s":"OFF","ppm":2.252,"v":208},{"s":"OFF","ppm":2.22,"v":206},{"s":"OFF","ppm":2.189,"v":205},{"s":"OFF","ppm":2.15,"v":206},{"s":"OFF","ppm":2.108,"v":206},{"s":"OFF","ppm":2.085,"v":210},{"s":"OFF","ppm":2.058,"v":225},{"s":"OFF","ppm":2.044,"v":233},{"s":"OFF","ppm":2.034,"v":247},{"s":"OFF","ppm":2.026,"v":265},{"s":"OFF","ppm":2.02,"v":280},{"s":"OFF","ppm":2.014,"v":288},{"s":"OFF","ppm":2.009,"v":280},{"s":"OFF","ppm":2.003,"v":266},{"s":"OFF","ppm":1.996,"v":248},{"s":"OFF","ppm":1.988,"v":233},{"s":"OFF","ppm":1.98,"v":223},{"s":"OFF","ppm":1.97,"v":215},{"s":"OFF","ppm":1.955,"v":208},{"s":"OFF","ppm":1.939,"v":205},{"s":"OFF","ppm":1.9,"v":206},{"s":"OFF","ppm":1.85,"v":207},{"s":"OFF","ppm":1.8,"v":207},{"s":"OFF","ppm":1.751,"v":207},{"s":"OFF","ppm":1.7,"v":208},{"s":"OFF","ppm":1.65,"v":208},{"s":"OFF","ppm":1.6,"v":209},{"s":"OFF","ppm":1.544,"v":209},{"s":"OFF","ppm":1.5,"v":208},{"s":"OFF","ppm":1.45,"v":208},{"s":"OFF","ppm":1.4,"v":206},{"s":"OFF","ppm":1.357,"v":205},{"s":"OFF","ppm":1.33,"v":206},{"s":"OFF","ppm":1.294,"v":207},{"s":"OFF","ppm":1.26,"v":206},{"s":"OFF","ppm":1.23,"v":207},{"s":"OFF","ppm":1.212,"v":207},{"s":"OFF","ppm":1.17,"v":206},{"s":"OFF","ppm":1.14,"v":207},{"s":"OFF","ppm":1.106,"v":207},{"s":"OFF","ppm":1.07,"v":206},{"s":"OFF","ppm":1.04,"v":207},{"s":"OFF","ppm":1.012,"v":207},{"s":"OFF","ppm":1.0,"v":207},
  {"s":"DIFF","ppm":4.5,"v":104},{"s":"DIFF","ppm":4.475,"v":107},{"s":"DIFF","ppm":4.45,"v":105},{"s":"DIFF","ppm":4.425,"v":106},{"s":"DIFF","ppm":4.381,"v":96},{"s":"DIFF","ppm":4.343,"v":108},{"s":"DIFF","ppm":4.3,"v":115},{"s":"DIFF","ppm":4.268,"v":105},{"s":"DIFF","ppm":4.237,"v":100},{"s":"DIFF","ppm":4.206,"v":108},{"s":"DIFF","ppm":4.174,"v":108},{"s":"DIFF","ppm":4.143,"v":103},{"s":"DIFF","ppm":4.112,"v":110},{"s":"DIFF","ppm":4.08,"v":100},{"s":"DIFF","ppm":4.049,"v":76},{"s":"DIFF","ppm":4.03,"v":78},{"s":"DIFF","ppm":4.018,"v":60},{"s":"DIFF","ppm":4.005,"v":90},{"s":"DIFF","ppm":3.993,"v":78},{"s":"DIFF","ppm":3.974,"v":70},{"s":"DIFF","ppm":3.955,"v":58},{"s":"DIFF","ppm":3.943,"v":40},{"s":"DIFF","ppm":3.93,"v":28},{"s":"DIFF","ppm":3.918,"v":48},{"s":"DIFF","ppm":3.905,"v":53},{"s":"DIFF","ppm":3.886,"v":73},{"s":"DIFF","ppm":3.861,"v":111},{"s":"DIFF","ppm":3.842,"v":98},{"s":"DIFF","ppm":3.83,"v":88},{"s":"DIFF","ppm":3.811,"v":108},{"s":"DIFF","ppm":3.799,"v":113},{"s":"DIFF","ppm":3.774,"v":123},{"s":"DIFF","ppm":3.755,"v":146},{"s":"DIFF","ppm":3.736,"v":133},{"s":"DIFF","ppm":3.717,"v":128},{"s":"DIFF","ppm":3.692,"v":118},{"s":"DIFF","ppm":3.673,"v":111},{"s":"DIFF","ppm":3.648,"v":98},{"s":"DIFF","ppm":3.63,"v":95},{"s":"DIFF","ppm":3.598,"v":98},{"s":"DIFF","ppm":3.567,"v":95},{"s":"DIFF","ppm":3.542,"v":113},{"s":"DIFF","ppm":3.517,"v":128},{"s":"DIFF","ppm":3.498,"v":121},{"s":"DIFF","ppm":3.486,"v":113},{"s":"DIFF","ppm":3.473,"v":93},{"s":"DIFF","ppm":3.46,"v":81},{"s":"DIFF","ppm":3.442,"v":93},{"s":"DIFF","ppm":3.411,"v":106},{"s":"DIFF","ppm":3.379,"v":111},{"s":"DIFF","ppm":3.348,"v":111},{"s":"DIFF","ppm":3.317,"v":116},{"s":"DIFF","ppm":3.292,"v":123},{"s":"DIFF","ppm":3.273,"v":126},{"s":"DIFF","ppm":3.248,"v":118},{"s":"DIFF","ppm":3.216,"v":96},{"s":"DIFF","ppm":3.191,"v":105},{"s":"DIFF","ppm":3.16,"v":113},{"s":"DIFF","ppm":3.129,"v":108},{"s":"DIFF","ppm":3.091,"v":113},{"s":"DIFF","ppm":3.06,"v":105},{"s":"DIFF","ppm":3.028,"v":110},{"s":"DIFF","ppm":2.997,"v":103},{"s":"DIFF","ppm":2.966,"v":106},{"s":"DIFF","ppm":2.922,"v":105},{"s":"DIFF","ppm":2.878,"v":103},{"s":"DIFF","ppm":2.853,"v":98},{"s":"DIFF","ppm":2.828,"v":96},{"s":"DIFF","ppm":2.797,"v":100},{"s":"DIFF","ppm":2.753,"v":101},{"s":"DIFF","ppm":2.734,"v":108},{"s":"DIFF","ppm":2.69,"v":105},{"s":"DIFF","ppm":2.653,"v":118},{"s":"DIFF","ppm":2.622,"v":113},{"s":"DIFF","ppm":2.597,"v":116},{"s":"DIFF","ppm":2.578,"v":103},{"s":"DIFF","ppm":2.559,"v":86},{"s":"DIFF","ppm":2.528,"v":95},{"s":"DIFF","ppm":2.496,"v":108},{"s":"DIFF","ppm":2.471,"v":111},{"s":"DIFF","ppm":2.446,"v":108},{"s":"DIFF","ppm":2.421,"v":105},{"s":"DIFF","ppm":2.39,"v":93},{"s":"DIFF","ppm":2.371,"v":103},{"s":"DIFF","ppm":2.346,"v":110},{"s":"DIFF","ppm":2.308,"v":106},{"s":"DIFF","ppm":2.277,"v":105},{"s":"DIFF","ppm":2.246,"v":109},{"s":"DIFF","ppm":2.214,"v":108},{"s":"DIFF","ppm":2.17,"v":113},{"s":"DIFF","ppm":2.126,"v":116},{"s":"DIFF","ppm":2.095,"v":113},{"s":"DIFF","ppm":2.064,"v":111},{"s":"DIFF","ppm":2.039,"v":103},{"s":"DIFF","ppm":2.014,"v":86},{"s":"DIFF","ppm":1.989,"v":103},{"s":"DIFF","ppm":1.964,"v":111},{"s":"DIFF","ppm":1.933,"v":105},{"s":"DIFF","ppm":1.901,"v":101},{"s":"DIFF","ppm":1.857,"v":104},{"s":"DIFF","ppm":1.813,"v":105},{"s":"DIFF","ppm":1.764,"v":106},{"s":"DIFF","ppm":1.713,"v":106},{"s":"DIFF","ppm":1.67,"v":107},{"s":"DIFF","ppm":1.626,"v":107},{"s":"DIFF","ppm":1.588,"v":105},{"s":"DIFF","ppm":1.544,"v":106},{"s":"DIFF","ppm":1.513,"v":104},{"s":"DIFF","ppm":1.494,"v":101},{"s":"DIFF","ppm":1.463,"v":108},{"s":"DIFF","ppm":1.419,"v":111},{"s":"DIFF","ppm":1.394,"v":117},{"s":"DIFF","ppm":1.375,"v":138},{"s":"DIFF","ppm":1.362,"v":144},{"s":"DIFF","ppm":1.344,"v":131},{"s":"DIFF","ppm":1.331,"v":127},{"s":"DIFF","ppm":1.313,"v":135},{"s":"DIFF","ppm":1.3,"v":143},{"s":"DIFF","ppm":1.288,"v":133},{"s":"DIFF","ppm":1.262,"v":113},{"s":"DIFF","ppm":1.231,"v":111},{"s":"DIFF","ppm":1.2,"v":110},{"s":"DIFF","ppm":1.169,"v":110},{"s":"DIFF","ppm":1.137,"v":107},{"s":"DIFF","ppm":1.106,"v":105},{"s":"DIFF","ppm":1.075,"v":103},{"s":"DIFF","ppm":1.043,"v":105},{"s":"DIFF","ppm":1.012,"v":102},{"s":"DIFF","ppm":1.0,"v":103}
 ]
},
"columns": 2,
"spacing": {"row": 116, "column": 111},
"bounds": "flush",
"concat": [
  {"width": 202, "height": 411,
   "title": {"text": "Simulation", "dx": 33, "offset": -18, "baseline": "alphabetic", "anchor": "middle", "fontSize": 37},
   "encoding": {
    "x": {"field": "ppm", "type": "quantitative", "scale": {"domain": [2.8, 3.2], "reverse": true, "nice": false, "zero": false},
          "axis": {"values": [3.2, 3.1, 3.0, 2.9, 2.8], "format": ".1f", "title": "ppm", "titleFontSize": 19, "titleX": 215, "titleY": 43, "titleAlign": "right", "titleBaseline": "alphabetic", "labelBaseline": "alphabetic", "labelPadding": 15, "tickSize": 7}},
    "y": {"field": "v", "type": "quantitative", "scale": {"domain": [0, 411], "nice": false, "zero": false},
          "axis": {"title": "GABA", "titleFontSize": 38, "labels": false, "ticks": false, "domain": false, "titleX": -16, "titleY": 221, "titleAngle": -90, "titleAlign": "center", "titleBaseline": "alphabetic"}}
   },
   "layer": [
    {"data": {"name": "simA"},
     "mark": {"type": "line", "interpolate": "monotone", "strokeWidth": 3.5, "color": "#111", "strokeJoin": "round", "strokeCap": "round"},
     "encoding": {"detail": {"field": "s"}, "order": {"field": "ppm", "sort": "descending"}}},
    {"data": {"values": [{"ppm": 3.184, "v": 384, "t": "A"}]},
     "mark": {"type": "text", "align": "left", "baseline": "alphabetic", "fontSize": 25},
     "encoding": {"text": {"field": "t"}}}
   ]},
  {"width": 559, "height": 411,
   "title": {"text": "In vivo", "dx": -15, "offset": -18, "baseline": "alphabetic", "anchor": "middle", "fontSize": 37},
   "encoding": {
    "x": {"field": "ppm", "type": "quantitative", "scale": {"domain": [1.0, 4.5], "reverse": true, "nice": false, "zero": false},
          "axis": {"values": [4.5, 4.0, 3.5, 3.0, 2.5, 2.0, 1.5, 1.0], "format": ".1f", "title": "ppm", "titleFontSize": 19, "titleX": 549, "titleY": 42, "titleAlign": "right", "titleBaseline": "alphabetic", "labelBaseline": "alphabetic", "labelPadding": 26, "tickSize": 7}},
    "y": {"field": "v", "type": "quantitative", "scale": {"domain": [0, 411], "nice": false, "zero": false},
          "axis": {"title": null, "values": [55, 190, 322], "labelExpr": "datum.value == 322 ? 'ON' : datum.value == 190 ? 'OFF' : 'DIFF'", "labelAlign": "center", "labelBaseline": "middle", "labelPadding": 65, "ticks": false, "tickSize": 0, "domain": false}}
   },
   "layer": [
    {"data": {"values": [{"ppm": 3.215, "ppm2": 2.79, "v": 0, "v2": 411}]},
     "mark": {"type": "rect", "color": "#d9d9d9"},
     "encoding": {"x2": {"field": "ppm2"}, "y2": {"field": "v2"}}},
    {"data": {"name": "vivoB"},
     "mark": {"type": "line", "interpolate": "monotone", "strokeWidth": 3.3, "color": "#111", "clip": true, "strokeJoin": "round"},
     "encoding": {"detail": {"field": "s"}, "order": {"field": "ppm", "sort": "descending"}}},
    {"data": {"values": [{"ppm": 4.487, "v": 384, "t": "B"}]},
     "mark": {"type": "text", "align": "left", "baseline": "alphabetic", "fontSize": 25},
     "encoding": {"text": {"field": "t"}}},
    {"data": {"values": [{"ppm": 1.0, "v": 57, "t": "×5"}]},
     "mark": {"type": "text", "align": "right", "baseline": "alphabetic", "fontSize": 25},
     "encoding": {"text": {"field": "t"}}}
   ]},
  {"width": 214, "height": 410,
   "encoding": {
    "x": {"field": "ppm", "type": "quantitative", "scale": {"domain": [1.13, 1.53], "reverse": true, "nice": false, "zero": false},
          "axis": {"values": [1.5, 1.4, 1.3, 1.2], "format": ".1f", "title": "ppm", "titleFontSize": 19, "titleX": 215, "titleY": 37, "titleAlign": "right", "titleBaseline": "alphabetic", "labelBaseline": "alphabetic", "labelPadding": 22, "tickSize": 7}},
    "y": {"field": "v", "type": "quantitative", "scale": {"domain": [0, 410], "nice": false, "zero": false},
          "axis": {"title": "Lactate", "titleFontSize": 38, "labels": false, "ticks": false, "domain": false, "titleX": -16, "titleY": 199, "titleAngle": -90, "titleAlign": "center", "titleBaseline": "alphabetic"}}
   },
   "layer": [
    {"data": {"name": "simC"},
     "mark": {"type": "line", "interpolate": "monotone", "strokeWidth": 3.5, "color": "#111", "strokeJoin": "round", "strokeCap": "round"},
     "encoding": {"detail": {"field": "s"}, "order": {"field": "ppm", "sort": "descending"}}},
    {"data": {"values": [{"ppm": 1.53, "v": 405, "t": "C"}]},
     "mark": {"type": "text", "align": "left", "baseline": "alphabetic", "fontSize": 25},
     "encoding": {"text": {"field": "t"}}}
   ]},
  {"width": 559, "height": 410,
   "encoding": {
    "x": {"field": "ppm", "type": "quantitative", "scale": {"domain": [1.0, 4.5], "reverse": true, "nice": false, "zero": false},
          "axis": {"values": [4.5, 4.0, 3.5, 3.0, 2.5, 2.0, 1.5, 1.0], "format": ".1f", "title": "ppm", "titleFontSize": 19, "titleX": 550, "titleY": 44, "titleAlign": "right", "titleBaseline": "alphabetic", "labelBaseline": "alphabetic", "labelPadding": 22, "tickSize": 7}},
    "y": {"field": "v", "type": "quantitative", "scale": {"domain": [0, 410], "nice": false, "zero": false},
          "axis": {"title": null, "values": [70, 206, 338], "labelExpr": "datum.value == 338 ? 'ON' : datum.value == 206 ? 'OFF' : 'DIFF'", "labelAlign": "center", "labelBaseline": "middle", "labelPadding": 60, "ticks": false, "tickSize": 0, "domain": false}}
   },
   "layer": [
    {"data": {"values": [{"ppm": 1.55, "ppm2": 1.125, "v": 0, "v2": 410}]},
     "mark": {"type": "rect", "color": "#d9d9d9"},
     "encoding": {"x2": {"field": "ppm2"}, "y2": {"field": "v2"}}},
    {"data": {"name": "vivoD"},
     "mark": {"type": "line", "interpolate": "monotone", "strokeWidth": 3, "color": "#111", "clip": true, "strokeJoin": "round"},
     "encoding": {"detail": {"field": "s"}, "order": {"field": "ppm", "sort": "descending"}}},
    {"data": {"values": [{"ppm": 4.487, "v": 405, "t": "D"}]},
     "mark": {"type": "text", "align": "left", "baseline": "alphabetic", "fontSize": 25},
     "encoding": {"text": {"field": "t"}}},
    {"data": {"values": [{"ppm": 0.985, "v": 68, "t": "×10"}]},
     "mark": {"type": "text", "align": "right", "baseline": "alphabetic", "fontSize": 25},
     "encoding": {"text": {"field": "t"}}}
   ]}
]
}
